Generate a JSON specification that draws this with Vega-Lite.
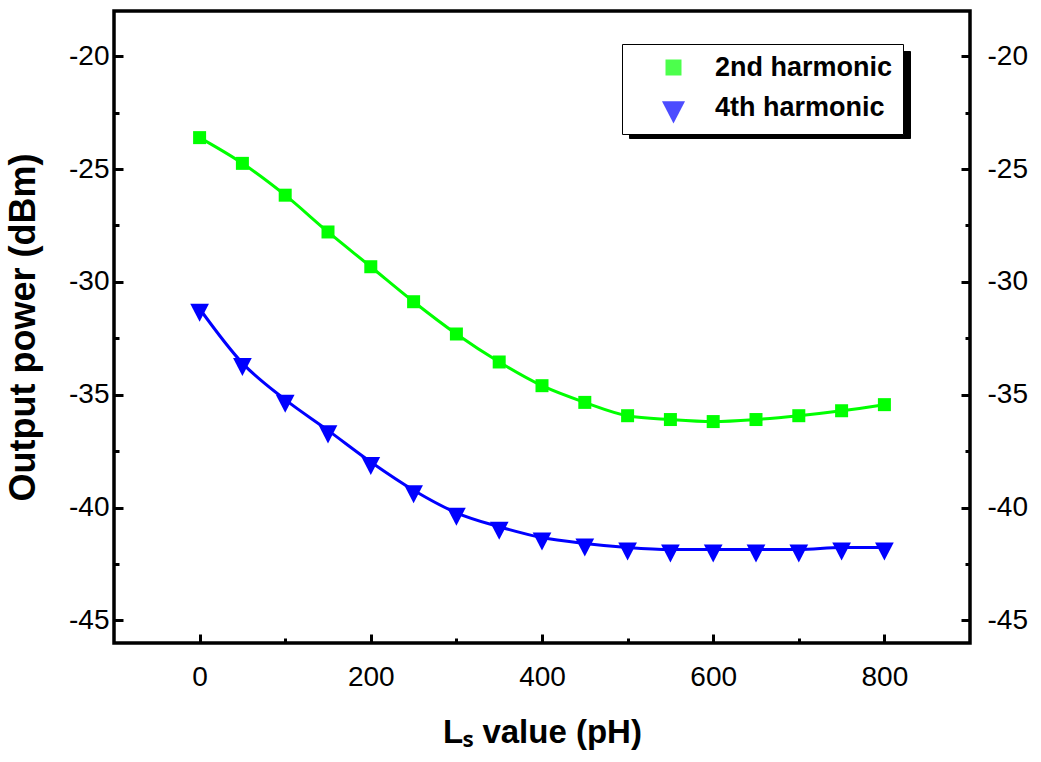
{
  "$schema": "https://vega.github.io/schema/vega-lite/v6.json",
  "width": 856,
  "height": 632,
  "autosize": {"type": "none"},
  "padding": {"left": 114, "top": 11, "right": 71, "bottom": 119},
  "background": "white",
  "config": {
    "view": {"stroke": "black", "strokeWidth": 3.5},
    "axis": {
      "domain": false,
      "grid": false,
      "tickColor": "black",
      "tickWidth": 3,
      "labelFont": "Liberation Sans",
      "labelFontSize": 28,
      "labelColor": "black",
      "titleFont": "Liberation Sans",
      "titleFontSize": 33,
      "titleFontWeight": "bold",
      "titleColor": "black"
    },
    "legend": {
      "title": null,
      "orient": "none",
      "labelFont": "Liberation Sans",
      "labelFontSize": 27,
      "labelFontWeight": "bold",
      "labelColor": "black",
      "labelLimit": 400,
      "symbolSize": 256,
      "symbolStrokeWidth": 0,
      "padding": 10,
      "rowPadding": 12,
      "symbolOffset": 28,
      "labelOffset": 28
    }
  },
  "data": {
    "values": [
      {"series": "2nd harmonic", "Ls": 0, "P": -23.61},
      {"series": "2nd harmonic", "Ls": 50, "P": -24.75},
      {"series": "2nd harmonic", "Ls": 100, "P": -26.16},
      {"series": "2nd harmonic", "Ls": 150, "P": -27.79},
      {"series": "2nd harmonic", "Ls": 200, "P": -29.33},
      {"series": "2nd harmonic", "Ls": 250, "P": -30.88},
      {"series": "2nd harmonic", "Ls": 300, "P": -32.31},
      {"series": "2nd harmonic", "Ls": 350, "P": -33.55},
      {"series": "2nd harmonic", "Ls": 400, "P": -34.6},
      {"series": "2nd harmonic", "Ls": 450, "P": -35.34},
      {"series": "2nd harmonic", "Ls": 500, "P": -35.93},
      {"series": "2nd harmonic", "Ls": 550, "P": -36.1},
      {"series": "2nd harmonic", "Ls": 600, "P": -36.19},
      {"series": "2nd harmonic", "Ls": 650, "P": -36.1},
      {"series": "2nd harmonic", "Ls": 700, "P": -35.93},
      {"series": "2nd harmonic", "Ls": 750, "P": -35.71},
      {"series": "2nd harmonic", "Ls": 800, "P": -35.44},
      {"series": "4th harmonic", "Ls": 0, "P": -31.19},
      {"series": "4th harmonic", "Ls": 50, "P": -33.6},
      {"series": "4th harmonic", "Ls": 100, "P": -35.22},
      {"series": "4th harmonic", "Ls": 150, "P": -36.58},
      {"series": "4th harmonic", "Ls": 200, "P": -37.98},
      {"series": "4th harmonic", "Ls": 250, "P": -39.23},
      {"series": "4th harmonic", "Ls": 300, "P": -40.23},
      {"series": "4th harmonic", "Ls": 350, "P": -40.85},
      {"series": "4th harmonic", "Ls": 400, "P": -41.33},
      {"series": "4th harmonic", "Ls": 450, "P": -41.59},
      {"series": "4th harmonic", "Ls": 500, "P": -41.77},
      {"series": "4th harmonic", "Ls": 550, "P": -41.86},
      {"series": "4th harmonic", "Ls": 600, "P": -41.86},
      {"series": "4th harmonic", "Ls": 650, "P": -41.86},
      {"series": "4th harmonic", "Ls": 700, "P": -41.86},
      {"series": "4th harmonic", "Ls": 750, "P": -41.77},
      {"series": "4th harmonic", "Ls": 800, "P": -41.77}
    ]
  },
  "resolve": {"axis": {"y": "independent"}},
  "layer": [
    {
      "mark": {"type": "line", "strokeWidth": 3, "interpolate": "monotone"},
      "encoding": {
        "x": {
          "field": "Ls", "type": "quantitative",
          "scale": {"domain": [-100, 900], "nice": false, "zero": false},
          "axis": {
            "orient": "bottom",
            "values": [0, 100, 200, 300, 400, 500, 600, 700, 800],
            "labelExpr": "datum.value % 200 === 0 ? '' + datum.value : ''",
            "tickSize": {"condition": {"test": "datum.value % 200 === 0", "value": -9}, "value": -5},
            "labelPadding": 29,
            "title": "Lₛ value (pH)",
            "titlePadding": 25
          }
        },
        "y": {
          "field": "P", "type": "quantitative",
          "scale": {"domain": [-46, -18], "nice": false, "zero": false},
          "axis": {
            "orient": "left",
            "values": [-45, -42.5, -40, -37.5, -35, -32.5, -30, -27.5, -25, -22.5, -20],
            "labelExpr": "datum.value % 5 === 0 ? '' + datum.value : ''",
            "tickSize": {"condition": {"test": "datum.value % 5 === 0", "value": -9}, "value": -5},
            "labelPadding": 14,
            "title": "Output power (dBm)",
            "titleFontSize": 36,
            "titlePadding": 26
          }
        },
        "color": {
          "field": "series", "type": "nominal",
          "scale": {"domain": ["2nd harmonic", "4th harmonic"], "range": ["#00ff00", "#0000ff"]},
          "legend": {
            "legendX": 508,
            "legendY": 33,
            "zindex": 2,
            "fillColor": "white",
            "strokeColor": "black",
            "symbolOpacity": 1
          }
        }
      }
    },
    {
      "mark": {"type": "point", "filled": true},
      "encoding": {
        "x": {"field": "Ls", "type": "quantitative"},
        "y": {
          "field": "P", "type": "quantitative",
          "axis": {
            "orient": "right",
            "values": [-45, -42.5, -40, -37.5, -35, -32.5, -30, -27.5, -25, -22.5, -20],
            "labelExpr": "datum.value % 5 === 0 ? '' + datum.value : ''",
            "tickSize": {"condition": {"test": "datum.value % 5 === 0", "value": -9}, "value": -5},
            "labelPadding": 26,
            "title": null
          }
        },
        "color": {"field": "series", "type": "nominal"},
        "shape": {
          "field": "series", "type": "nominal",
          "scale": {"domain": ["2nd harmonic", "4th harmonic"], "range": ["square", "M-1.44,-0.77L1.44,-0.77L0,2Z"]},
          "legend": null
        },
        "size": {"value": 169},
        "opacity": {
          "field": "series", "type": "ordinal",
          "scale": {"domain": ["4th harmonic", "2nd harmonic"], "range": [1, 1]},
          "legend": {
            "legendX": 515,
            "legendY": 40,
            "zindex": 1,
            "fillColor": "black",
            "strokeColor": "black",
            "labelOpacity": 0,
            "symbolOpacity": 0
          }
        }
      }
    }
  ]
}
